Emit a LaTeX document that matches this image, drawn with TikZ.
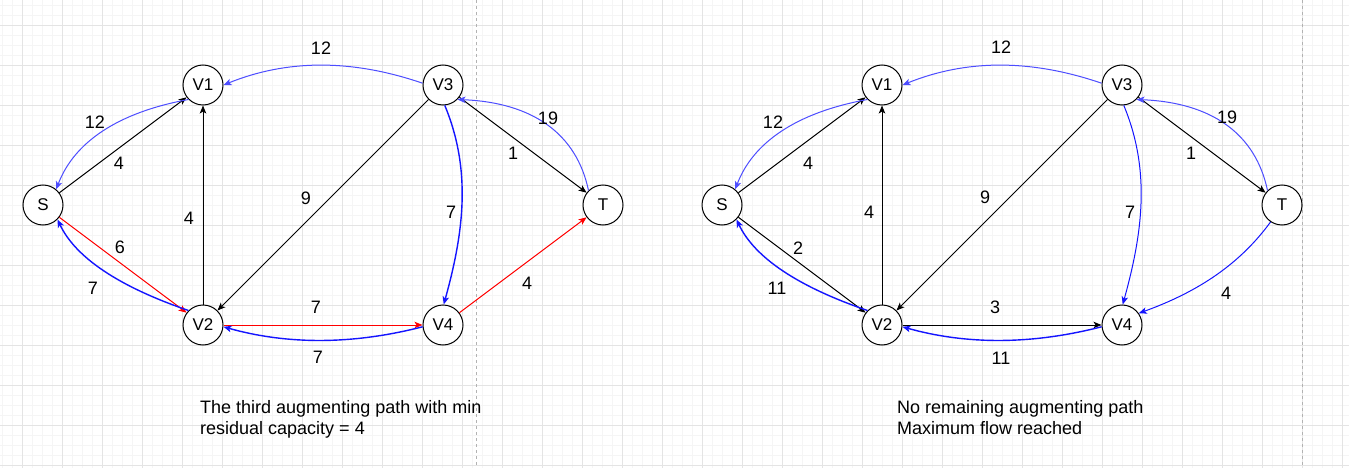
\documentclass[tikz,border=0pt]{standalone}
\usepackage{fontspec}
\setmainfont{Liberation Sans}
\usetikzlibrary{arrows.meta}

\definecolor{gridmajor}{RGB}{228,228,228}
\definecolor{gridminor}{RGB}{245,245,245}
\definecolor{resblue}{RGB}{77,77,255}
\definecolor{flowblue}{RGB}{20,20,255}

\tikzset{
    vertex/.style={circle, draw, fill=white, line width=1pt, minimum size=40pt, inner sep=0pt, font=\fontsize{17}{17}\selectfont},
    lbl/.style={inner sep=0pt, font=\fontsize{18}{18}\selectfont},
    caption/.style={inner sep=0pt, align=left, anchor=north west, font=\fontsize{18}{21.5}\selectfont},
    conn/.style={line width=1pt, -{Stealth[length=8pt,width=6.5pt,inset=2pt]}},
    fwd/.style={conn, black},
    aug/.style={conn, red},
    res/.style={conn, resblue},
    thinback/.style={conn, flowblue},
    back/.style={conn, flowblue, line width=1.4pt},
}

\begin{document}
\begin{tikzpicture}[x=1pt,y=-1pt]
    % paper with grid
    \useasboundingbox (0,0) rectangle (1349,468);
    \fill[white] (0,0) rectangle (1349,468);
    \foreach \x in {1.7,11.7,...,1349} \draw[gridminor] (\x,0) -- (\x,468);
    \foreach \y in {5,15,...,468} \draw[gridminor] (0,\y) -- (1349,\y);
    \foreach \x in {21.7,61.7,...,1349} \draw[gridmajor] (\x,0) -- (\x,468);
    \foreach \y in {25,65,...,468} \draw[gridmajor] (0,\y) -- (1349,\y);

    % page separators
    \foreach \x in {475.7,1301.7} \draw[gray!60, dash pattern=on 3pt off 3pt] (\x,0) -- (\x,468);

    % vertices of both graphs
    \foreach \n/\x/\y in {S/43/205, V1/203/85, V2/203/325, V3/443/85, V4/443/325, T/603/205}{
        \node[vertex] (l\n) at (\x,\y) {\n};
        \node[vertex] (r\n) at (\x+679,\y) {\n};
    }

    % straight edges
    \foreach \a/\b in {S/V1, V2/V1, V3/V2, V3/T} \draw[fwd] (l\a) -- (l\b);
    \foreach \a/\b in {S/V2, V2/V4, V4/T} \draw[aug] (l\a) -- (l\b);
    \foreach \a/\b in {S/V1, V2/V1, V3/V2, V3/T, S/V2, V2/V4} \draw[fwd] (r\a) -- (r\b);

    % residual edges
    \foreach \p in {l,r}{
        \draw[res] (\p V3.175) .. controls +(-73,-25) and +(62,-25) .. (\p V1.0);
        \draw[res] (\p V1.225) .. controls +(-71,13) and +(18,-47) .. (\p S.50);
        \draw[res] (\p T.135) .. controls +(-12,-57) and +(75,3) .. (\p V3.-45);
        \draw[back] (\p V2.135) .. controls +(-70,-24) and +(18,38) .. (\p S.-45);
        \draw[back] (\p V4.185) .. controls +(-70,18) and +(64,18) .. (\p V2.-5);
    }
    \draw[back] (lV3.-85) .. controls +(27,65) and +(20,-72) .. (lV4.88);
    \draw[thinback] (rV3.-85) .. controls +(27,65) and +(20,-72) .. (rV4.88);
    \draw[thinback] (rT.236) .. controls +(-30,41) and +(61,-22) .. (rV4.35);

    % capacities
    \foreach \t/\x/\y [count=\i] in {12/321/48, 12/95/122, 4/119/163, 4/189/218, 9/306/198, 7/451/212, 1/513/153, 19/548/118, 6/120/247, 7/93/288, 7/316/307, 7/318/357, 4/527/283}
        \node[lbl] (lcap\i) at (\x,\y) {\t};
    \foreach \t/\x/\y [count=\i] in {12/1001/47, 12/773/122, 4/808/163, 4/869/212, 9/985/197, 7/1130/212, 1/1191/153, 19/1227/117, 2/798/248, 11/777/288, 3/995/307, 11/1001/358, 4/1226/293}
        \node[lbl] (rcap\i) at (\x,\y) {\t};

    % captions
    \node[caption] (lnote) at (200,400) {The third augmenting path with min\\residual capacity = 4};
    \node[caption] (rnote) at (897,400) {No remaining augmenting path\\Maximum flow reached};
\end{tikzpicture}
\end{document}
